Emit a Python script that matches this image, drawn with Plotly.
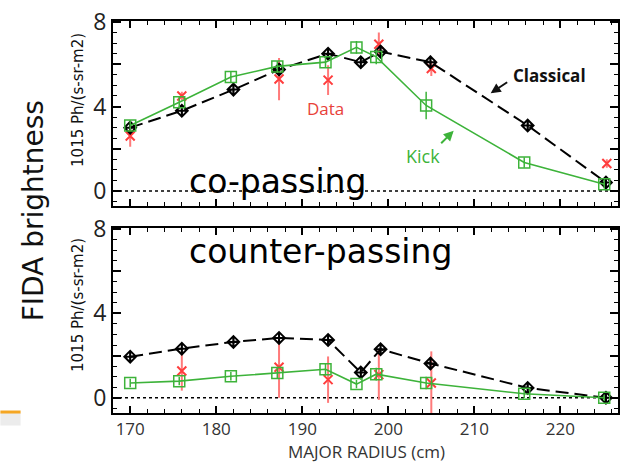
import plotly.graph_objects as go
from plotly.subplots import make_subplots

# ---- data ----
cl_x = [170.0, 176.0, 182.0, 187.3, 193.0, 196.8, 199.1, 204.9, 216.2, 225.3]
cl_top = [3.0, 3.8, 4.8, 5.75, 6.5, 6.1, 6.6, 6.1, 3.1, 0.4]
cl_bot = [1.95, 2.33, 2.65, 2.84, 2.74, 1.2, 2.3, 1.63, 0.47, 0.0]
cl_err = [0.2, 0.2, 0.2, 0.25, 0.25, 0.25, 0.25, 0.3, 0.2, 0.15]

kick_x = [170.0, 175.7, 181.7, 187.1, 192.7, 196.3, 198.6, 204.4, 215.8, 225.1]
kick_top = [3.1, 4.2, 5.4, 5.9, 6.1, 6.8, 6.35, 4.05, 1.35, 0.32]
kick_top_err = [0.25, 0.25, 0.25, 0.25, 0.25, 0.3, 0.35, 0.65, 0.25, 0.2]
kick_bot = [0.7, 0.79, 1.02, 1.18, 1.35, 0.65, 1.12, 0.7, 0.19, 0.0]
kick_bot_err = [0.2, 0.2, 0.2, 0.25, 0.3, 0.2, 0.3, 0.3, 0.2, 0.15]

data_top_x = [170.0, 176.0, 187.3, 193.0, 198.9, 205.0, 225.4]
data_top = [2.6, 4.5, 5.3, 5.25, 6.95, 5.8, 1.3]
data_top_err = [0.5, 0.2, 1.0, 0.7, 0.55, 0.35, 0.2]

data_bot_x = [176.0, 187.3, 193.0, 198.9, 205.0]
data_bot = [1.27, 1.45, 0.86, 1.1, 0.7]
data_bot_err = [0.93, 1.45, 1.1, 1.2, 1.5]

y_ticks = [0, 2, 4, 6, 8]
y_ticktext = ["0", "", "4", "", "8"]
x_ticks = [170, 180, 190, 200, 210, 220]

GREEN = "#3db33a"
RED = "#ff3d3d"
RED_BAR = "#ff7a7a"
FONT = "Open Sans"

fig = make_subplots(rows=2, cols=1, shared_xaxes=False)

for row, (dx, dy, de, cy, ky, ke) in enumerate(
    [(data_top_x, data_top, data_top_err, cl_top, kick_top, kick_top_err),
     (data_bot_x, data_bot, data_bot_err, cl_bot, kick_bot, kick_bot_err)], start=1):
    # zero dotted line
    fig.add_trace(go.Scatter(x=[168, 226.7], y=[0, 0], mode="lines",
                             line=dict(color="black", width=1.5, dash="dot"),
                             showlegend=False, hoverinfo="skip"), row=row, col=1)
    # measured data
    fig.add_trace(go.Scatter(x=dx, y=dy, mode="markers",
                             marker=dict(symbol="x-thin-open", size=9, color=RED,
                                         line=dict(color=RED, width=2)),
                             error_y=dict(type="data", array=de, color=RED_BAR,
                                          thickness=2, width=0),
                             showlegend=False), row=row, col=1)
    # classical
    fig.add_trace(go.Scatter(x=cl_x, y=cy, mode="lines+markers",
                             line=dict(color="black", width=2, dash="13px,6px"),
                             marker=dict(symbol="diamond-cross-open", size=9, color="black",
                                         line=dict(color="black", width=2)),
                             error_y=dict(type="data", array=cl_err, color="black",
                                          thickness=1.5, width=0),
                             showlegend=False), row=row, col=1)
    # kick
    fig.add_trace(go.Scatter(x=kick_x, y=ky, mode="lines+markers",
                             line=dict(color=GREEN, width=1.6),
                             marker=dict(symbol="square-open", size=11, color=GREEN,
                                         line=dict(color=GREEN, width=1.5)),
                             error_y=dict(type="data", array=ke, color=GREEN,
                                          thickness=1.5, width=0),
                             showlegend=False), row=row, col=1)

axis_common = dict(showline=True, linecolor="black", linewidth=2, mirror="ticks",
                   ticks="inside", tickcolor="black", tickwidth=1.5, showgrid=False,
                   zeroline=False)

fig.update_xaxes(**axis_common, range=[168, 226.7], tickvals=x_ticks, ticklen=7,
                 minor=dict(ticks="inside", dtick=2, ticklen=4, tickcolor="black",
                            tickwidth=1, showgrid=False),
                 tickfont=dict(family=FONT, size=17, color="#333"))
fig.update_xaxes(showticklabels=False, row=1, col=1)
fig.update_yaxes(**axis_common, range=[-0.72, 8.05], tickvals=y_ticks,
                 ticktext=y_ticktext, ticklen=8,
                 minor=dict(ticks="inside", dtick=0.5, ticklen=4, tickcolor="black",
                            tickwidth=1, showgrid=False),
                 tickfont=dict(family=FONT, size=23, color="#222"))

fig.update_layout(
    width=625, height=462,
    margin=dict(l=113, r=5, t=15, b=49),
    paper_bgcolor="white", plot_bgcolor="white",
    showlegend=False,
    xaxis=dict(domain=[0, 1]), xaxis2=dict(domain=[0, 1]),
    yaxis=dict(domain=[0.5276, 1.0]), yaxis2=dict(domain=[0.0, 0.472]),
)


def txt(text, x, y, size, color, family=FONT, angle=0, xanchor="center"):
    return dict(text=text, x=x, y=y, xref="paper", yref="paper", showarrow=False,
                xanchor=xanchor, yanchor="middle", textangle=angle,
                font=dict(family=family, size=size, color=color))


ann = [
    txt("MAJOR RADIUS (cm)", 0.501, -0.098, 17, "#333"),
    txt("FIDA brightness", -0.158, 0.515, 28, "#111", family="DejaVu Sans", angle=-90),
    txt("1015 Ph/(s-sr-m2)", -0.069, 0.799, 15, "#111", family="DejaVu Sans", angle=-90),
    txt("1015 Ph/(s-sr-m2)", -0.069, 0.276, 15, "#111", family="DejaVu Sans", angle=-90),
    txt("Data", 0.420, 0.776, 17, "#e8413a"),
    txt("<b>Classical</b>", 0.864, 0.862, 17, "#111"),
    txt("Kick", 0.613, 0.656, 18, GREEN),
    txt("co-passing", 0.146, 0.590, 33, "black", family="DejaVu Sans", xanchor="left"),
    txt("counter-passing", 0.146, 0.412, 33, "black", family="DejaVu Sans", xanchor="left"),
]
# arrows
ann.append(dict(text="", x=211.9, y=4.63, xref="x", yref="y", showarrow=True,
                ax=18, ay=-12, arrowhead=2, arrowsize=1, arrowwidth=2, arrowcolor="#111"))
ann.append(dict(text="", x=207.6, y=2.85, xref="x", yref="y", showarrow=True,
                ax=-14, ay=14, arrowhead=2, arrowsize=1, arrowwidth=2, arrowcolor=GREEN))
fig.update_layout(annotations=ann)

# orange slide artifact at bottom-left
fig.add_shape(type="rect", xref="paper", yref="paper", x0=-0.223, x1=-0.183,
              y0=-0.032, y1=0.0, fillcolor="#ececec", line=dict(width=0), layer="below")
fig.add_shape(type="line", xref="paper", yref="paper", x0=-0.223, x1=-0.183,
              y0=0.0025, y1=0.0025, line=dict(color="#f5a623", width=3))

fig.write_html("out.html", config={"displayModeBar": False},
               post_script="document.body.style.margin='0px';")
